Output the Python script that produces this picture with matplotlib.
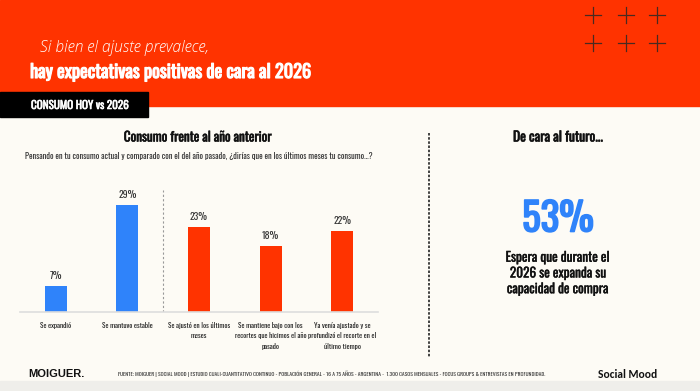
import matplotlib
matplotlib.use("Agg")
import matplotlib.pyplot as plt
from matplotlib.patches import Rectangle
import matplotlib.patheffects as pe

# data
categorias = ["Se expandió", "Se mantuvo estable", "Se ajustó en los últimos\nmeses",
              "Se mantiene bajo con los\nrecortes que hicimos el año\npasado",
              "Ya venía ajustado y se\nprofundizó el recorte en el\núltimo tiempo"]
valores = [7, 29, 23, 18, 22]
colores = ["#2F83FA", "#2F83FA", "#FF3300", "#FF3300", "#FF3300"]
futuro_pct = 53

OSW = ["Oswald", "DejaVu Sans"]
ORANGE = "#FF3300"
BLUE = "#2F83FA"
BG = "#FDFBF5"


def bold(c, w=0.6):
    return [pe.withStroke(linewidth=w, foreground=c)]


fig = plt.figure(figsize=(7, 3.91), dpi=100)
fig.patch.set_facecolor(BG)

# full-figure layer in pixel coords
bg = fig.add_axes([0, 0, 1, 1])
bg.set_xlim(0, 700)
bg.set_ylim(391, 0)
bg.axis("off")

bg.add_patch(Rectangle((0, 0), 700, 106, color=ORANGE, zorder=1))
bg.add_patch(Rectangle((0, 92), 148, 25, color="black", zorder=2))
bg.add_patch(Rectangle((0, 381), 700, 10, color="#EFEEEA", zorder=1))

for cx in [593, 626, 657]:
    for cy in [15, 43]:
        bg.plot([cx - 8, cx + 8], [cy, cy], color="#4a2a20", lw=0.9)
        bg.plot([cx, cx], [cy - 8, cy + 8], color="#4a2a20", lw=0.9)

bg.text(40, 48, "Si bien el ajuste prevalece,", family="Open Sans", style="italic",
        weight="light", fontsize=11.2, color="white", va="center")
bg.text(30, 72, "hay expectativas positivas de cara al 2026", family=OSW,
        fontsize=13.2, color="white", va="center", path_effects=bold("white", 0.8))
bg.text(31, 105, "CONSUMO HOY vs 2026", family=OSW,
        fontsize=8, color="white", va="center", path_effects=bold("white", 0.4))

bg.text(198, 137, "Consumo frente al año anterior", family=OSW,
        fontsize=9.5, color="#111111", ha="center", va="center",
        path_effects=bold("#111111", 0.4))
bg.text(199, 156, "Pensando en tu consumo actual y comparado con el del año pasado, ¿dirías que en los últimos meses tu consumo...?",
        family=OSW, fontsize=6, color="#333333", ha="center", va="center")

bg.plot([429, 429], [133, 357], color="#222222", lw=1.2, ls=(0, (1.5, 1)))

bg.text(558, 137, "De cara al futuro...", family=OSW,
        fontsize=9.8, color="#111111", ha="center", va="center",
        path_effects=bold("#111111", 0.4))
bg.text(558, 219, f"{futuro_pct}%", family=OSW,
        fontsize=28, color=BLUE, ha="center", va="center",
        path_effects=bold(BLUE, 1.2))
bg.text(558, 273, "Espera que durante el\n2026 se expanda su\ncapacidad de compra",
        family=OSW, fontsize=9.6, color="#111111", ha="center",
        va="center", linespacing=1.25, path_effects=bold("#111111", 0.25))

bg.text(28, 374, "MOIGUER.", family="Liberation Sans", weight="bold", fontsize=8,
        color="#111111", va="center")
bg.text(118, 374, "FUENTE: MOIGUER | SOCIAL MOOD | ESTUDIO CUALI-CUANTITATIVO CONTINUO - POBLACIÓN GENERAL - 16 A 75 AÑOS - ARGENTINA -  1.300 CASOS MENSUALES - FOCUS GROUPS & ENTREVISTAS EN PROFUNDIDAD.",
        family=OSW, fontsize=4, color="#333333", va="center")
bg.text(598, 374, "Social Mood", family="Carlito", weight="bold", fontsize=8.3,
        color="#111111", va="center")

# bar chart axes: x 20..378 px, y 190..312 px
ax = fig.add_axes([20 / 700, (391 - 312) / 391, 358 / 700, 122 / 391])
ax.set_facecolor("none")
x = list(range(len(valores)))
ax.bar(x, valores, width=0.31, color=colores)
ax.set_xlim(-0.5, 4.5)
ax.set_ylim(0, 122 / 3.69)
for xi, v in zip(x, valores):
    ax.text(xi, v + 1.3, f"{v}%", family=OSW, fontsize=7, color="#333333",
            ha="center", va="bottom")
ax.axvline(1.5, ymin=0, ymax=1, color="#999999", lw=0.8, ls=(0, (2, 2)))
for s in ["top", "right", "left"]:
    ax.spines[s].set_visible(False)
ax.spines["bottom"].set_color("#DDDDDD")
ax.spines["bottom"].set_linewidth(1.2)
ax.set_yticks([])
ax.set_xticks(x)
ax.set_xticklabels(categorias, family=OSW, fontsize=5.2, color="#222222",
                   linespacing=1.6, va="top")
ax.tick_params(axis="x", length=0, pad=7)

fig.savefig("out.png", dpi=100, facecolor=BG)
